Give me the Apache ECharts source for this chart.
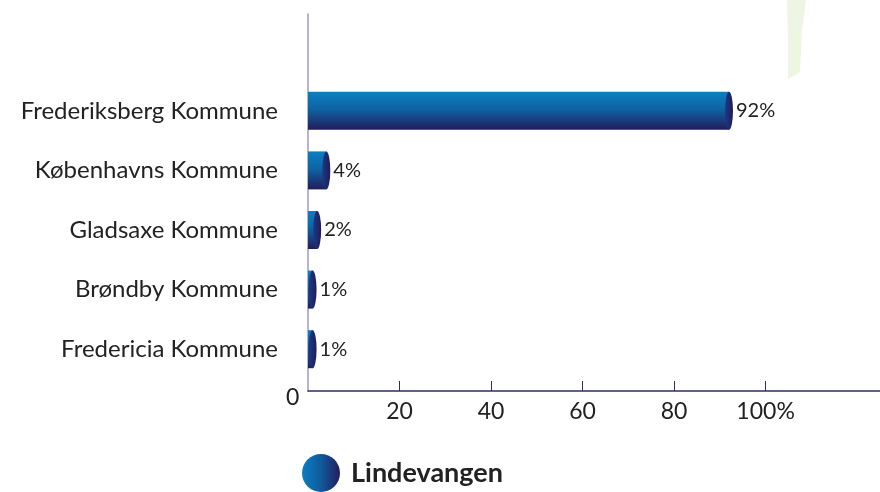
<!DOCTYPE html>
<html>
<head>
<meta charset="utf-8">
<script src="https://cdn.jsdelivr.net/npm/echarts@6/dist/echarts.min.js"></script>
<style>
  html, body { margin: 0; padding: 0; background: #fff; }
  #chart { width: 880px; height: 492px; }
</style>
</head>
<body>
<div id="chart"></div>
<script>
// data (bottom to top)
const categories = ['Fredericia Kommune', 'Brøndby Kommune', 'Gladsaxe Kommune', 'Københavns Kommune', 'Frederiksberg Kommune']
const shares = [1, 1, 2, 4, 92]
const seriesName = 'Lindevangen'
const tickValues = [20, 40, 60, 80, 100]

const FONT = 'Lato, "Noto Sans", sans-serif'
const xMax = 125

const chart = echarts.init(document.getElementById('chart'))

const barGradient = new echarts.graphic.LinearGradient(0, 0, 0, 1, [
  { offset: 0, color: '#0b7fc0' },
  { offset: 0.45, color: '#0e64a4' },
  { offset: 1, color: '#231c5b' }
])
const capGradient = new echarts.graphic.LinearGradient(0, 0, 1, 0, [
  { offset: 0, color: '#1b3b86' },
  { offset: 1, color: '#221a58' }
])
const legendGradient = new echarts.graphic.LinearGradient(0, 0, 1, 0, [
  { offset: 0, color: '#0b7fc0' },
  { offset: 0.5, color: '#0f5a9c' },
  { offset: 1, color: '#231c5b' }
])

const option = {
  animation: false,
  grid: [
    { left: 308, right: 0, top: 81, height: 298 },
    { left: 308, right: 0, top: 14, height: 377 }
  ],
  xAxis: [
    { gridIndex: 0, type: 'value', min: 0, max: xMax, show: false },
    {
      gridIndex: 1,
      type: 'value',
      min: 0,
      max: xMax,
      axisLine: { show: true, lineStyle: { color: '#2f2d66', width: 1.5 } },
      axisTick: {
        show: true,
        inside: true,
        length: 10,
        customValues: tickValues,
        lineStyle: { color: '#2f2d66', width: 1 }
      },
      axisLabel: {
        customValues: tickValues,
        margin: 9,
        fontFamily: FONT,
        fontSize: 23,
        color: '#222',
        formatter: function (v) {
          return v === 100 ? '100%' : String(v)
        }
      },
      splitLine: { show: false }
    }
  ],
  yAxis: [
    {
      gridIndex: 0,
      type: 'category',
      data: categories,
      axisLine: { show: false },
      axisTick: { show: false },
      axisLabel: {
        margin: 30,
        fontFamily: FONT,
        fontSize: 24,
        color: '#222'
      }
    },
    {
      gridIndex: 1,
      type: 'value',
      axisLine: { show: true, lineStyle: { color: '#9d9bc4', width: 1.5 } },
      axisTick: { show: false },
      axisLabel: { show: false },
      splitLine: { show: false }
    }
  ],
  legend: {
    data: [{ name: seriesName, itemStyle: { color: legendGradient } }],
    left: 297,
    top: 449,
    icon: 'circle',
    itemWidth: 38,
    itemHeight: 38,
    textStyle: {
      fontFamily: FONT,
      fontSize: 27,
      fontWeight: 'bold',
      color: '#222',
      padding: [0, 0, 0, 6]
    }
  },
  graphic: [
    {
      type: 'polygon',
      shape: { points: [[787, 0], [806, 0], [802, 30], [800, 72], [788, 79], [788, 40]] },
      style: { fill: '#eef5e3' },
      z: -1
    },
    {
      type: 'text',
      left: 286,
      top: 386,
      style: { text: '0', fontFamily: FONT, fontSize: 23, fill: '#222' }
    }
  ],
  series: [
    {
      name: seriesName,
      type: 'bar',
      xAxisIndex: 0,
      yAxisIndex: 0,
      data: shares,
      barWidth: 38,
      barGap: '-100%',
      itemStyle: { color: barGradient },
      label: {
        show: true,
        position: 'right',
        distance: 7,
        fontFamily: FONT,
        fontSize: 20,
        color: '#222',
        formatter: '{c}%'
      },
      z: 2
    },
    {
      name: 'cap',
      type: 'pictorialBar',
      xAxisIndex: 0,
      yAxisIndex: 0,
      data: shares,
      symbol: 'circle',
      symbolSize: [8, 38],
      symbolPosition: 'end',
      symbolOffset: ['50%', 0],
      barWidth: 38,
      barGap: '-100%',
      itemStyle: { color: capGradient },
      silent: true,
      z: 3
    }
  ]
}

chart.setOption(option)
</script>
</body>
</html>
